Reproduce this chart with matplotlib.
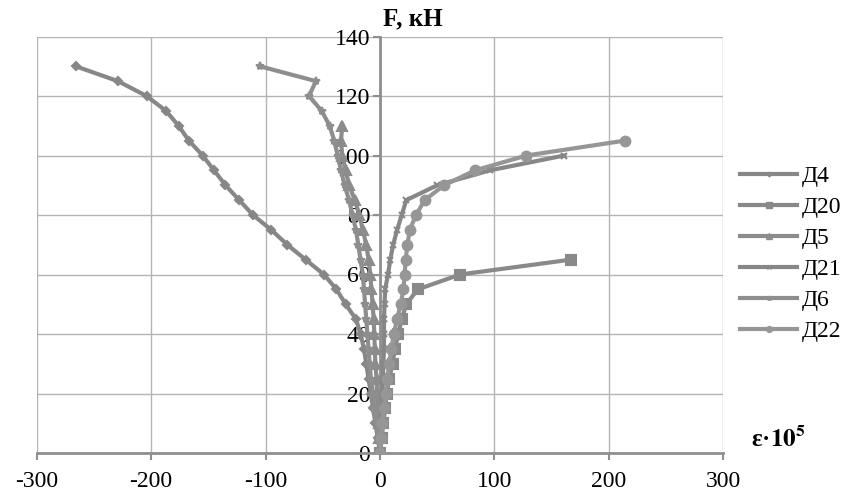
import matplotlib.pyplot as plt
import matplotlib.lines as mlines

plt.rcParams['font.family'] = ['Liberation Serif', 'DejaVu Serif']
plt.rcParams['mathtext.fontset'] = 'stix'
plt.rcParams['axes.unicode_minus'] = False

# Нагрузки (кН) и деформации (e*10^5) по датчикам
F_d4 = [0, 5, 10, 15, 20, 25, 30, 35, 40, 45, 50, 55, 60, 65, 70, 75, 80, 85, 90, 95, 100, 105, 110, 115, 120, 125, 130]
e_d4 = [0, -2, -4, -6, -8, -10, -12, -14, -17, -21, -30, -38, -49, -65, -81, -95, -111, -123, -135, -145, -155, -167, -176, -187, -204, -229, -266]

F_d20 = [0, 5, 10, 15, 20, 25, 30, 35, 40, 45, 50, 55, 60, 65]
e_d20 = [0, 1.5, 3, 4.5, 6, 8, 11, 13, 16, 19, 23, 33, 70, 167]

F_d5 = [0, 5, 10, 15, 20, 25, 30, 35, 40, 45, 50, 55, 60, 65, 70, 75, 80, 85, 90, 95, 100, 105, 110]
e_d5 = [0, -0.5, -1, -2, -2.5, -3, -4, -4.5, -5, -5.5, -6.5, -7.5, -8.5, -10, -12, -15, -18, -22, -27, -30, -33, -34, -33]

F_d21 = [0, 5, 10, 15, 20, 25, 30, 35, 40, 45, 50, 55, 60, 65, 70, 75, 80, 85, 90, 95, 100]
e_d21 = [0, 0.5, 1, 1.5, 2, 2.5, 3, 3.5, 3.5, 3.5, 4, 4.5, 7, 9, 11.5, 15, 19, 23, 50, 96, 161]

F_d6 = [0, 5, 10, 15, 20, 25, 30, 35, 40, 45, 50, 55, 60, 65, 70, 75, 80, 85, 90, 95, 100, 105, 110, 115, 120, 125, 130]
e_d6 = [0, -1.5, -3, -5, -6, -8, -9, -10, -11, -12, -13, -14, -15, -17, -19, -21, -24, -27, -31, -34, -37, -40, -44, -51, -62, -56, -105]

F_d22 = [0, 5, 10, 15, 20, 25, 30, 35, 40, 45, 50, 55, 60, 65, 70, 75, 80, 85, 90, 95, 100, 105]
e_d22 = [0, 1, 2, 3.5, 5, 6.5, 8, 10, 12, 15, 18, 20.5, 21.5, 22.5, 24, 26, 31.5, 39, 56, 83, 128, 214]

series = [
    ("Д4", e_d4, F_d4, "D", 4, "#878787"),
    ("Д20", e_d20, F_d20, "s", 7, "#898989"),
    ("Д5", e_d5, F_d5, "^", 7, "#8c8c8c"),
    ("Д21", e_d21, F_d21, "x", 5, "#878787"),
    ("Д6", e_d6, F_d6, "*", 6, "#8e8e8e"),
    ("Д22", e_d22, F_d22, "o", 7, "#969696"),
]

fig = plt.figure(figsize=(8.43, 5.0), dpi=100)
ax = fig.add_axes([0.0435, 0.094, 0.8145, 0.833])

handles = []
for name, x, y, m, ms, c in series:
    ax.plot(x, y, color=c, lw=3, marker=m, ms=ms, mew=1.5, zorder=3)
    handles.append(mlines.Line2D([], [], color=c, lw=3, marker=m, ms=ms * 0.6, mew=1, label=name))

ax.set_xlim(-300, 300)
ax.set_ylim(0, 140)
ax.set_xticks(range(-300, 301, 100))
ax.set_yticks(range(0, 141, 20))
ax.grid(True, color="#b4b4b4", lw=1)
ax.set_axisbelow(True)

ax.spines['left'].set_position(('data', 0))
ax.spines['left'].set_color("#8f8f8f")
ax.spines['left'].set_linewidth(2)
ax.spines['bottom'].set_color("#8f8f8f")
ax.spines['bottom'].set_linewidth(2)
ax.spines['top'].set_visible(False)
ax.spines['right'].set_visible(False)

ax.tick_params(axis='x', direction='out', length=5, width=1.5, color="#8f8f8f",
               labelsize=17, pad=8)
ax.tick_params(axis='y', direction='out', length=5, width=1.5, color="#8f8f8f",
               labelsize=17, pad=2)

ax.text(3, 146, "F, кН", fontsize=18, fontweight='bold', ha='left', va='center', clip_on=False)
ax.text(1.04, 0.034, r"ε·$\mathbf{10^{5}}$", transform=ax.transAxes, fontsize=18,
        fontweight='bold', ha='left', va='center')

fig.legend(handles=handles, loc='center left', bbox_to_anchor=(0.853, 0.492),
           frameon=False, fontsize=17, handlelength=2.4, labelspacing=0.4,
           handletextpad=0.2)

fig.savefig("out.png", dpi=100)
